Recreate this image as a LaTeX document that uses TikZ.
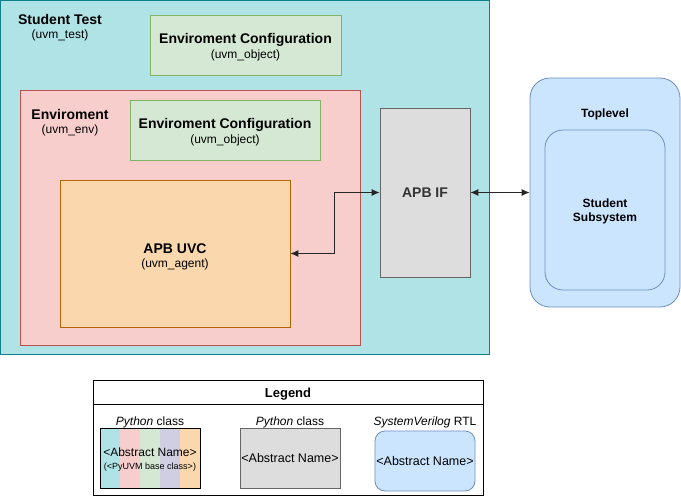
\documentclass[tikz,border=0pt]{standalone}
\usepackage{fontspec}
\setmainfont{Liberation Sans}
\usepackage{tikz}
\usetikzlibrary{arrows.meta}

\definecolor{tealfill}{HTML}{B0E3E6}
\definecolor{tealline}{HTML}{0E8088}
\definecolor{redfill}{HTML}{F8CECC}
\definecolor{redline}{HTML}{B85450}
\definecolor{greenfill}{HTML}{D5E8D4}
\definecolor{greenline}{HTML}{82B366}
\definecolor{orangefill}{HTML}{FAD7AC}
\definecolor{orangeline}{HTML}{B46504}
\definecolor{purplefill}{HTML}{D0CEE2}
\definecolor{grayfill}{HTML}{DDDDDD}
\definecolor{grayline}{HTML}{666666}
\definecolor{bluefill}{HTML}{CCE5FF}
\definecolor{blueline}{HTML}{6C8EBF}
\definecolor{textgray}{HTML}{333333}

\tikzset{
    block/.style={draw, line width=0.8pt, inner sep=0pt},
    title/.style={font=\fontsize{14}{16}\selectfont\bfseries, align=center, inner sep=0pt, yshift=-1.5pt},
    subtitle/.style={font=\fontsize{12}{14}\selectfont, align=center, inner sep=0pt, yshift=-1.5pt},
    small/.style={font=\fontsize{12}{14}\selectfont\bfseries, align=center, inner sep=0pt, yshift=-1.5pt},
    link/.style={draw=black!85, line width=0.9pt, {Latex[length=8pt,width=7pt]}-{Latex[length=8pt,width=7pt]}}
}

\begin{document}
\begin{tikzpicture}[x=1pt, y=-1pt]
        \useasboundingbox (0,0) rectangle (681,496);

        % Draw the test
        \node[block, fill=tealfill, draw=tealline, minimum width=489pt, minimum height=354pt] (test) at (245,177.5) {};
        \node[title] (testname) at (60,18) {Student Test};
        \node[subtitle] (testtype) at (60,34) {(uvm\_test)};

        % Draw the test configuration
        \node[block, fill=greenfill, draw=greenline, minimum width=191pt, minimum height=60pt] (cfgtest) at (245.5,45) {};
        \node[title] (cfgtestname) at (245.5,38) {Enviroment Configuration};
        \node[subtitle] (cfgtesttype) at (245.5,54) {(uvm\_object)};

        % Draw the environment
        \node[block, fill=redfill, draw=redline, minimum width=340pt, minimum height=255pt] (env) at (190,217.5) {};
        \node[title] (envname) at (70,113) {Enviroment};
        \node[subtitle] (envtype) at (70,129) {(uvm\_env)};

        % Draw the environment configuration
        \node[block, fill=greenfill, draw=greenline, minimum width=190pt, minimum height=60pt] (cfgenv) at (225,130) {};
        \node[title] (cfgenvname) at (225,123) {Enviroment Configuration};
        \node[subtitle] (cfgenvtype) at (225,139) {(uvm\_object)};

        % Draw the agent
        \node[block, fill=orangefill, draw=orangeline, minimum width=230pt, minimum height=147pt] (uvc) at (175,253.5) {};
        \node[title] (uvcname) at (175,247) {APB UVC};
        \node[subtitle] (uvctype) at (175,263) {(uvm\_agent)};

        % Draw the interface
        \node[block, fill=grayfill, draw=grayline, minimum width=90pt, minimum height=169pt,
              font=\fontsize{14}{16}\selectfont\bfseries, text=textgray] (apbif) at (425,192.5) {APB IF};

        % Draw the toplevel
        \node[block, fill=bluefill, draw=blueline, rounded corners=20pt, minimum width=150pt, minimum height=229pt] (top) at (605,192.5) {};
        \node[small] (topname) at (605,113) {Toplevel};
        \node[block, fill=bluefill, draw=blueline, rounded corners=18pt, minimum width=120pt, minimum height=160pt] (subsys) at (605,210) {};
        \node[small] (subsysname) at (605,210) {Student\\Subsystem};

        % Draw connections
        \draw[link] (apbif.west) -- ++(-45,0) |- (uvc.east);
        \draw[link] (apbif.east) -- (top.west);

        % Draw the legend
        \node[draw, line width=0.8pt, minimum width=390pt, minimum height=115pt] (legend) at (288,437.5) {};
        \draw[line width=0.8pt] (legend.west |- 0,404) -- (legend.east |- 0,404);
        \node[small, font=\fontsize{13}{15}\selectfont\bfseries] (legendname) at (288,392.5) {Legend};

        % Draw the striped class box
        \foreach \c [count=\i from 0] in {tealfill,redfill,greenfill,purplefill,orangefill}
            \fill[\c] (100+20*\i,428) rectangle (120+20*\i,488);
        \node[draw, line width=0.8pt, minimum width=100pt, minimum height=60pt] (pyclass) at (150,458) {};
        \node[subtitle] (pyclasslabel) at (150,421) {\itshape Python\upshape{} class};
        \node[subtitle] (pyclassname) at (150,451) {<Abstract Name>};
        \node[subtitle, font=\fontsize{9}{11}\selectfont] (pyclasstype) at (150,466) {(<PyUVM base class>)};

        % Draw the plain class box
        \node[block, fill=grayfill, draw=grayline, minimum width=100pt, minimum height=60pt,
              font=\fontsize{12.5}{14}\selectfont] (plainclass) at (290,458) {<Abstract Name>};
        \node[subtitle] (plainclasslabel) at (290,421) {\itshape Python\upshape{} class};

        % Draw the RTL box
        \node[block, fill=bluefill, draw=blueline, rounded corners=10pt, minimum width=100pt, minimum height=60pt,
              font=\fontsize{12.5}{14}\selectfont] (rtl) at (425,461) {<Abstract Name>};
        \node[subtitle] (rtllabel) at (425,421) {\itshape SystemVerilog\upshape{} RTL};
\end{tikzpicture}
\end{document}
